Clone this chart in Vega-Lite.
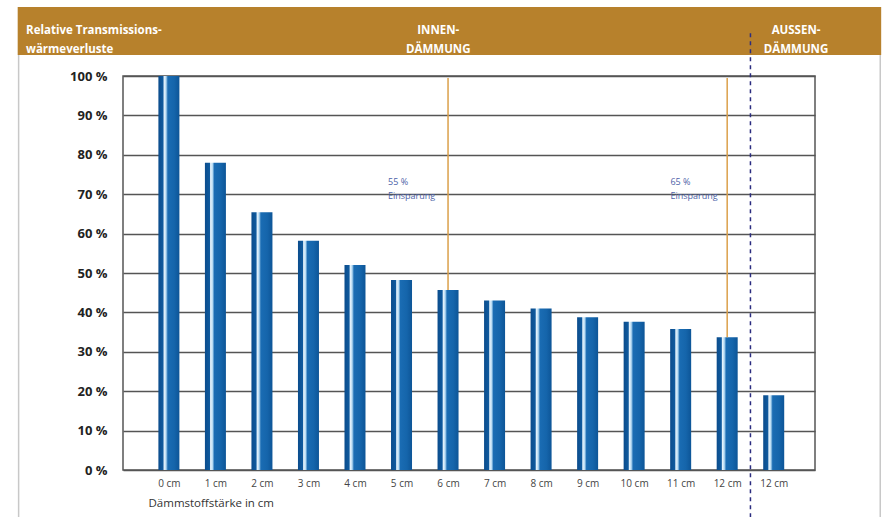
{
  "$schema": "https://vega.github.io/schema/vega-lite/v6.json",
  "width": 692,
  "height": 394,
  "autosize": {"type": "none"},
  "padding": {"left": 123, "top": 76, "right": 78, "bottom": 47},
  "background": "white",
  "config": {"view": {"stroke": "#555555", "strokeWidth": 1.5}, "font": "Open Sans"},
  "data": {"values": [
    {"cat": 0, "label": "0 cm", "value": 100},
    {"cat": 1, "label": "1 cm", "value": 78},
    {"cat": 2, "label": "2 cm", "value": 65.4},
    {"cat": 3, "label": "3 cm", "value": 58.2},
    {"cat": 4, "label": "4 cm", "value": 52},
    {"cat": 5, "label": "5 cm", "value": 48.2},
    {"cat": 6, "label": "6 cm", "value": 45.7},
    {"cat": 7, "label": "7 cm", "value": 43},
    {"cat": 8, "label": "8 cm", "value": 41},
    {"cat": 9, "label": "9 cm", "value": 38.8},
    {"cat": 10, "label": "10 cm", "value": 37.6},
    {"cat": 11, "label": "11 cm", "value": 35.8},
    {"cat": 12, "label": "12 cm", "value": 33.7},
    {"cat": 13, "label": "12 cm", "value": 19}
  ]},
  "layer": [
    {
      "mark": {
        "type": "bar",
        "width": 21,
        "color": {
          "gradient": "linear", "x1": 0, "x2": 1, "y1": 0, "y2": 0,
          "stops": [
            {"offset": 0, "color": "#0b4c8c"},
            {"offset": 0.22, "color": "#0f5a9e"},
            {"offset": 0.27, "color": "#e8f4fc"},
            {"offset": 0.36, "color": "#b8dcf4"},
            {"offset": 0.45, "color": "#1a6cb3"},
            {"offset": 0.75, "color": "#1565ab"},
            {"offset": 1, "color": "#0d5597"}
          ]
        }
      },
      "encoding": {
        "x": {
          "field": "cat", "type": "quantitative",
          "scale": {"domain": [-0.879, 13.78], "nice": false, "zero": false},
          "axis": {
            "values": [0, 1, 2, 3, 4, 5, 6, 7, 8, 9, 10, 11, 12, 13],
            "tickCount": 30,
            "labelExpr": "datum.value == 13 ? '12 cm' : datum.value + ' cm'",
            "ticks": false, "domain": false, "grid": false,
            "labelFlush": false, "labelOverlap": false,
            "labelPadding": 8, "labelFontSize": 10, "labelColor": "#444444",
            "title": "Dämmstoffstärke in cm",
            "titleX": 25, "titleY": 33, "titleAlign": "left", "titleAnchor": null,
            "titleBaseline": "middle", "titleFontWeight": "normal",
            "titleFontSize": 11.5, "titleColor": "#333333"
          }
        },
        "y": {
          "field": "value", "type": "quantitative",
          "scale": {"domain": [0, 100], "nice": false},
          "axis": {
            "values": [0, 10, 20, 30, 40, 50, 60, 70, 80, 90, 100],
            "tickCount": 30,
            "labelExpr": "datum.value + ' %'",
            "grid": true, "gridColor": "#555555", "gridWidth": 1.5,
            "ticks": false, "domain": false, "labelFlush": false, "labelOverlap": false,
            "labelPadding": 16, "labelFontSize": 13, "labelFontWeight": "bold",
            "labelColor": "#222222", "title": null
          }
        }
      }
    },
    {
      "data": {"values": [{}]},
      "mark": {"type": "rect", "color": "#b7812c"},
      "encoding": {
        "x": {"datum": -3.25, "type": "quantitative"},
        "x2": {"datum": 15.31},
        "y": {"datum": 105.33, "type": "quantitative"},
        "y2": {"datum": 117.5}
      }
    },
    {
      "data": {"values": [{}]},
      "mark": {"type": "rule", "color": "#c8c8c8", "strokeWidth": 1.5},
      "encoding": {"x": {"datum": -3.23, "type": "quantitative"}, "y": {"datum": -12, "type": "quantitative"}, "y2": {"datum": 105.33}}
    },
    {
      "data": {"values": [{}]},
      "mark": {"type": "rule", "color": "#c8c8c8", "strokeWidth": 1.5},
      "encoding": {"x": {"datum": 15.29, "type": "quantitative"}, "y": {"datum": -12, "type": "quantitative"}, "y2": {"datum": 105.33}}
    },
    {
      "transform": [{"filter": "datum.cat == 6 || datum.cat == 12"}],
      "mark": {"type": "rule", "color": "#dba04a", "strokeWidth": 1.5},
      "encoding": {
        "x": {"field": "cat", "type": "quantitative"},
        "y": {"field": "value", "type": "quantitative"},
        "y2": {"datum": 99.5}
      }
    },
    {
      "data": {"values": [{}]},
      "mark": {"type": "text", "text": ["55 %", "Einsparung"], "align": "left", "baseline": "middle", "lineHeight": 14, "fontSize": 9, "color": "#4d63a8"},
      "encoding": {"x": {"datum": 4.71, "type": "quantitative"}, "y": {"datum": 73.1, "type": "quantitative"}}
    },
    {
      "data": {"values": [{}]},
      "mark": {"type": "text", "text": ["65 %", "Einsparung"], "align": "left", "baseline": "middle", "lineHeight": 14, "fontSize": 9, "color": "#4d63a8"},
      "encoding": {"x": {"datum": 10.78, "type": "quantitative"}, "y": {"datum": 73.1, "type": "quantitative"}}
    },
    {
      "data": {"values": [{}]},
      "mark": {"type": "rule", "color": "#2b2d80", "strokeWidth": 1.5, "strokeDash": [4, 4]},
      "encoding": {"x": {"datum": 12.5, "type": "quantitative"}, "y": {"datum": -12, "type": "quantitative"}, "y2": {"datum": 111.7}}
    },
    {
      "data": {"values": [{}]},
      "mark": {"type": "text", "text": ["Relative Transmissions-", "wärmeverluste"], "align": "left", "baseline": "middle", "lineHeight": 19, "fontSize": 11.5, "fontWeight": "bold", "color": "white"},
      "encoding": {"x": {"datum": -3.07, "type": "quantitative"}, "y": {"datum": 111.3, "type": "quantitative"}}
    },
    {
      "data": {"values": [{}]},
      "mark": {"type": "text", "text": ["INNEN-", "DÄMMUNG"], "align": "center", "baseline": "middle", "lineHeight": 19, "fontSize": 11.5, "fontWeight": "bold", "color": "white"},
      "encoding": {"x": {"datum": 5.79, "type": "quantitative"}, "y": {"datum": 111.3, "type": "quantitative"}}
    },
    {
      "data": {"values": [{}]},
      "mark": {"type": "text", "text": ["AUSSEN-", "DÄMMUNG"], "align": "center", "baseline": "middle", "lineHeight": 19, "fontSize": 11.5, "fontWeight": "bold", "color": "white"},
      "encoding": {"x": {"datum": 13.48, "type": "quantitative"}, "y": {"datum": 111.3, "type": "quantitative"}}
    }
  ]
}
